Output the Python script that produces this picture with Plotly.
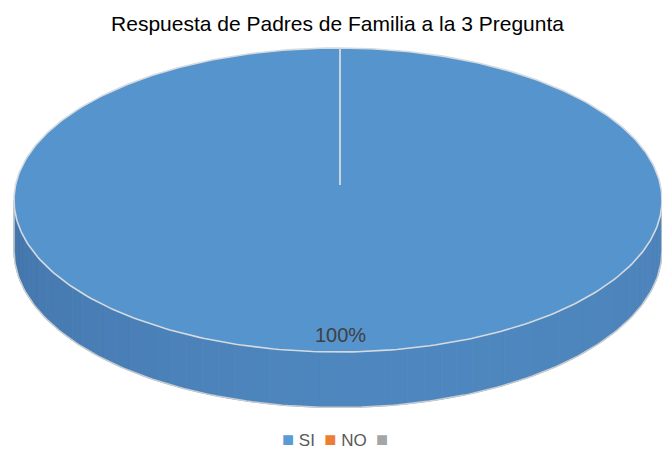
import numpy as np
import plotly.graph_objects as go

# ---- data ----
categories = ["SI", "NO", ""]
values = [100, 0, 0]
colors = ["#5694cd", "#ED7D31", "#A5A5A5"]
legend_colors = ["#5B9BD5", "#ED7D31", "#A5A5A5"]
title_text = "Respuesta de Padres de Familia a la 3 Pregunta"

# ---- 3D pie projection (pixel space) ----
W, H = 662, 450
cx, cy0 = 338.0, 185.0
k = 0.0987
A = 322.4
B = 150.5
T = 50.0  # thickness


def proj(r, t, depth=0.0):
    u = r * np.cos(t)
    v = r * np.sin(t)
    w = 1 + k * v
    return cx + A * u / w, cy0 - B * v / w + depth / w


total = float(sum(values))
fracs = [v / total for v in values]
cum = np.concatenate([[0], np.cumsum(fracs)])


def ang(f):
    return np.pi / 2 - 2 * np.pi * f


fig = go.Figure()

ts = np.arcsin(k)
vis_a, vis_b = np.pi + ts, 2 * np.pi - ts


def shade(t):
    s = (t - vis_a) / (vis_b - vis_a)
    dark = np.array([64, 112, 166])
    mid = np.array([79, 136, 192])
    right = np.array([76, 131, 186])
    if s < 0.55:
        c = dark + (mid - dark) * (s / 0.55) ** 0.6
    else:
        c = mid + (right - mid) * ((s - 0.55) / 0.45)
    return "rgb(%d,%d,%d)" % tuple(c.astype(int))


for i, f in enumerate(fracs):
    if f <= 0:
        continue
    a0, a1 = ang(cum[i]), ang(cum[i + 1])
    lo, hi = a1, a0
    for shift in (0, 2 * np.pi, 4 * np.pi, -2 * np.pi):
        s_lo, s_hi = max(lo + shift, vis_a), min(hi + shift, vis_b)
        if s_hi <= s_lo:
            continue
        edges = np.linspace(s_lo, s_hi, 61)
        for j in range(len(edges) - 1):
            tt = np.linspace(edges[j], edges[j + 1], 4)
            xt, yt = proj(1.0, tt)
            xb, yb = proj(1.0, tt[::-1], T)
            xs = np.concatenate([xt, xb, xt[:1]])
            ys = np.concatenate([yt, yb, yt[:1]])
            col = shade(0.5 * (edges[j] + edges[j + 1])) if i == 0 else colors[i]
            fig.add_trace(go.Scatter(x=xs, y=ys, fill="toself", fillcolor=col,
                                     line=dict(color=col, width=0.8), mode="lines",
                                     hoverinfo="skip", showlegend=False))
        tt = np.linspace(s_lo, s_hi, 200)
        xb, yb = proj(1.0, tt, T)
        fig.add_trace(go.Scatter(x=xb, y=yb, mode="lines",
                                 line=dict(color="#c8ccd0", width=1.5),
                                 hoverinfo="skip", showlegend=False))

for t in (vis_a, vis_b):
    x1, y1 = proj(1.0, t)
    x2, y2 = proj(1.0, t, T)
    fig.add_trace(go.Scatter(x=[x1, x2], y=[y1, y2], mode="lines",
                             line=dict(color="#c8ccd0", width=1.5),
                             hoverinfo="skip", showlegend=False))

for i, f in enumerate(fracs):
    if f <= 0:
        continue
    tt = np.linspace(ang(cum[i]), ang(cum[i + 1]), 400)
    xa, ya = proj(1.0, tt)
    xc, yc = proj(0.0, 0.0)
    if f < 1:
        xs = np.concatenate([[xc], xa, [xc]])
        ys = np.concatenate([[yc], ya, [yc]])
    else:
        xs, ys = xa, ya
    fig.add_trace(go.Scatter(x=xs, y=ys, fill="toself", fillcolor=colors[i],
                             line=dict(color="#d4dae0", width=1.6), mode="lines",
                             hoverinfo="skip", showlegend=False))

for f in cum[:-1]:
    t = ang(f)
    x1, y1 = proj(1.0, t)
    x0, y0 = proj(0.0, 0.0)
    fig.add_trace(go.Scatter(x=[x0 + 2, x1 + 2], y=[y0, y1], mode="lines",
                             line=dict(color="#c9d3dc", width=2),
                             hoverinfo="skip", showlegend=False))

for i, f in enumerate(fracs):
    if f <= 0:
        continue
    tm = ang(0.5 * (cum[i] + cum[i + 1]))
    lx, ly = proj(0.905, tm)
    fig.add_annotation(x=lx + 2, y=ly, text="%d%%" % round(f * 100), showarrow=False,
                       font=dict(family="Liberation Sans, Arial", size=20, color="#404040"))

# legend (built from categories)
parts = []
for c, col in zip(categories, legend_colors):
    parts.append("<span style='color:%s;font-size:20px'>■</span> %s" % (col, c))
legend_text = "  ".join(parts)
fig.add_annotation(xref="paper", yref="paper", x=337 / W, y=1 - 439 / H, xanchor="center",
                   yanchor="middle", showarrow=False, text=legend_text,
                   font=dict(family="Liberation Sans, Arial", size=17, color="#595959"))

fig.update_layout(
    width=W, height=H,
    margin=dict(l=0, r=0, t=0, b=0),
    paper_bgcolor="white", plot_bgcolor="white",
    xaxis=dict(range=[0, W], visible=False, fixedrange=True),
    yaxis=dict(range=[H, 0], visible=False, fixedrange=True),
    title=dict(text=title_text, x=337.5 / W, xanchor="center", y=1 - 24 / H, yanchor="middle",
               font=dict(family="Liberation Sans, Arial", size=21, color="#000000")),
    showlegend=False,
)

fig.write_html("out.html", config={"displayModeBar": False},
               post_script="document.body.style.margin='0';document.body.style.overflow='hidden';")
